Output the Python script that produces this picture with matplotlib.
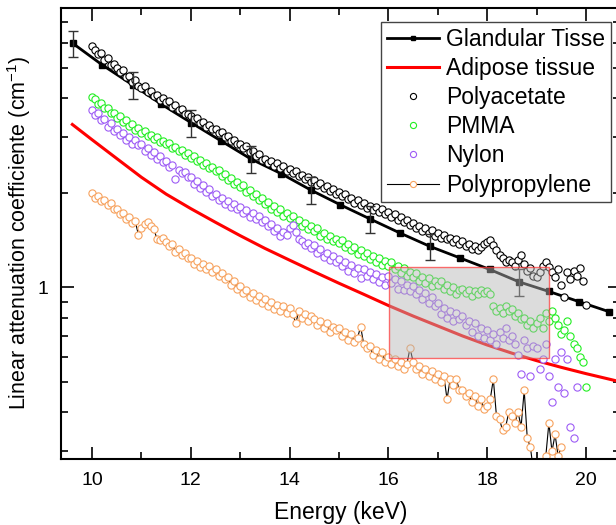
import numpy as np
import matplotlib.pyplot as plt
from matplotlib.patches import Rectangle
from matplotlib.ticker import MultipleLocator, FixedLocator, NullFormatter, FixedFormatter

# Spectra are sampled every 1/16 keV starting at 10 keV
scan_start = 10.0
scan_step = 0.0625

# Glandular tissue reference (line + squares) and its error bars
gland_energy = [9.61, 10.21, 10.82, 11.40, 12.01, 12.62, 13.22, 13.83, 14.43, 15.03,
                15.63, 16.23, 16.84, 17.45, 18.05, 18.65, 19.25, 19.86, 20.47]
gland_mu = [5.98, 5.10, 4.41, 3.83, 3.34, 2.92, 2.56, 2.30, 2.04, 1.83,
            1.65, 1.49, 1.35, 1.24, 1.14, 1.04, 0.97, 0.90, 0.836]
err_energy = [9.61, 10.82, 12.01, 13.22, 14.43, 15.63, 16.84, 18.65]
err_mu = [5.98, 4.41, 3.34, 2.56, 2.04, 1.65, 1.35, 1.04]
err_size = [0.58, 0.43, 0.33, 0.25, 0.20, 0.16, 0.13, 0.105]

# Adipose tissue reference curve
adipose_energy = [9.6, 10.0, 10.5, 11.0, 11.5, 12.0, 12.5, 13.0, 13.5, 14.0, 14.5, 15.0,
                  15.5, 16.0, 16.5, 17.0, 17.5, 18.0, 18.5, 19.0, 19.5, 20.0, 20.7]
adipose_mu = [3.30, 2.95, 2.57, 2.24, 1.98, 1.78, 1.61, 1.46, 1.33, 1.22, 1.12, 1.03,
              0.95, 0.875, 0.81, 0.753, 0.70, 0.655, 0.617, 0.584, 0.556, 0.531, 0.50]

polyacetate = [
    5.87, 5.70, 5.52, 5.58, 5.31, 5.36, 5.12, 5.14,
    4.98, 4.85, 4.91, 4.68, 4.72, 4.52, 4.58, 4.38,
    4.30, 4.36, 4.18, 4.21, 4.06, 4.10, 3.96, 4.02,
    3.88, 3.93, 3.76, 3.80, 3.66, 3.70, 3.56, 3.57,
    3.52, 3.43, 3.45, 3.33, 3.36, 3.24, 3.29, 3.19,
    3.20, 3.10, 3.12, 3.01, 3.04, 2.93, 2.95, 2.86,
    2.86, 2.78, 2.81, 2.70, 2.72, 2.62, 2.66, 2.55,
    2.57, 2.49, 2.52, 2.44, 2.48, 2.40, 2.43, 2.35,
    2.38, 2.31, 2.34, 2.26, 2.28, 2.21, 2.25, 2.17,
    2.19, 2.12, 2.15, 2.07, 2.10, 2.03, 2.06, 1.98,
    2.01, 1.95, 1.98, 1.91, 1.93, 1.86, 1.89, 1.83,
    1.85, 1.79, 1.82, 1.76, 1.80, 1.74, 1.77, 1.71,
    1.74, 1.68, 1.71, 1.64, 1.67, 1.61, 1.64, 1.58,
    1.60, 1.55, 1.57, 1.51, 1.54, 1.49, 1.52, 1.46,
    1.49, 1.44, 1.47, 1.42, 1.44, 1.39, 1.42, 1.37,
    1.40, 1.35, 1.37, 1.32, 1.35, 1.31, 1.34, 1.37,
    1.39, 1.41, 1.36, 1.31, 1.27, 1.24, 1.20, 1.22,
    1.20, 1.17, 1.22, 1.27, 1.19, 1.13, 1.15, 1.09,
    1.08, 1.12, 1.17, 1.20, 1.16, 1.12, 1.08, 1.14,
    1.02, 0.93, 1.12, 1.06, 1.13, 1.09, 1.15, 1.05,
    0.88]

pmma = [
    4.03, 3.98, 3.84, 3.86, 3.71, 3.73, 3.58, 3.60,
    3.47, 3.50, 3.37, 3.40, 3.27, 3.30, 3.18, 3.21,
    3.10, 3.14, 3.03, 3.06, 2.97, 3.00, 2.91, 2.93,
    2.85, 2.88, 2.77, 2.80, 2.71, 2.73, 2.64, 2.68,
    2.59, 2.62, 2.52, 2.54, 2.45, 2.49, 2.39, 2.42,
    2.34, 2.37, 2.26, 2.29, 2.20, 2.23, 2.13, 2.17,
    2.08, 2.11, 2.01, 2.04, 1.95, 1.98, 1.89, 1.92,
    1.84, 1.87, 1.78, 1.81, 1.74, 1.77, 1.69, 1.72,
    1.66, 1.69, 1.61, 1.64, 1.57, 1.60, 1.53, 1.57,
    1.51, 1.54, 1.46, 1.49, 1.43, 1.46, 1.40, 1.43,
    1.38, 1.41, 1.34, 1.37, 1.31, 1.34, 1.28, 1.31,
    1.26, 1.29, 1.23, 1.26, 1.20, 1.24, 1.18, 1.21,
    1.17, 1.20, 1.14, 1.17, 1.11, 1.15, 1.09, 1.12,
    1.08, 1.11, 1.05, 1.08, 1.03, 1.07, 1.01, 1.05,
    1.02, 1.05, 0.99, 1.02, 0.97, 1.00, 0.95, 0.98,
    0.99, 0.96, 0.98, 0.94, 0.97, 0.95, 0.98, 0.96,
    0.97, 0.95, 0.87, 0.84, 0.86, 0.83, 0.87, 0.84,
    0.85, 0.81, 0.83, 0.79, 0.80, 0.76, 0.78, 0.74,
    0.77, 0.80, 0.74, 0.83, 0.78, 0.84, 0.80, 0.76,
    0.71, 0.73, 0.78, 0.70, 0.66, 0.64, 0.60, 0.58,
    0.48]

nylon = [
    3.67, 3.55, 3.58, 3.40, 3.44, 3.25, 3.33, 3.15,
    3.19, 3.05, 3.10, 2.94, 3.02, 2.87, 2.95, 2.83,
    2.85, 2.72, 2.78, 2.63, 2.69, 2.56, 2.61, 2.50,
    2.52, 2.42, 2.45, 2.22, 2.37, 2.31, 2.33, 2.24,
    2.24, 2.14, 2.18, 2.07, 2.11, 2.01, 2.05, 1.96,
    1.98, 1.90, 1.93, 1.84, 1.88, 1.80, 1.84, 1.77,
    1.80, 1.73, 1.76, 1.68, 1.72, 1.65, 1.69, 1.61,
    1.64, 1.57, 1.59, 1.51, 1.54, 1.46, 1.50, 1.47,
    1.55, 1.58, 1.50, 1.42, 1.40, 1.36, 1.38, 1.33,
    1.36, 1.29, 1.32, 1.25, 1.29, 1.22, 1.26, 1.20,
    1.23, 1.17, 1.20, 1.13, 1.18, 1.11, 1.15, 1.07,
    1.14, 1.09, 1.12, 1.06, 1.10, 1.04, 1.08, 1.02,
    1.09, 1.03, 1.06, 0.99, 1.05, 0.98, 1.02, 0.97,
    1.01, 0.95, 0.98, 0.92, 0.96, 0.89, 0.93, 0.87,
    0.89, 0.82, 0.86, 0.80, 0.84, 0.78, 0.83, 0.79,
    0.81, 0.76, 0.78, 0.72, 0.77, 0.70, 0.74, 0.69,
    0.73, 0.68, 0.71, 0.66, 0.72, 0.69, 0.74, 0.68,
    0.70, 0.66, 0.61, 0.53, 0.68, 0.64, 0.52, 0.65,
    0.64, 0.55, 0.59, 0.66, 0.52, 0.43, 0.59, 0.48,
    0.62, 0.46, 0.59, 0.36, 0.33, 0.48]

polypropylene = [
    1.99, 1.93, 1.95, 1.88, 1.90, 1.83, 1.85, 1.77,
    1.78, 1.71, 1.73, 1.65, 1.68, 1.60, 1.62, 1.47,
    1.55, 1.59, 1.61, 1.57, 1.53, 1.43, 1.41, 1.44,
    1.39, 1.35, 1.37, 1.30, 1.32, 1.27, 1.29, 1.24,
    1.24, 1.19, 1.21, 1.16, 1.19, 1.14, 1.17, 1.12,
    1.14, 1.09, 1.11, 1.06, 1.08, 1.02, 1.05, 0.99,
    1.01, 0.96, 0.98, 0.93, 0.96, 0.91, 0.94, 0.89,
    0.92, 0.87, 0.90, 0.85, 0.88, 0.84, 0.87, 0.83,
    0.86, 0.82, 0.77, 0.84, 0.80, 0.82, 0.78, 0.81,
    0.79, 0.76, 0.78, 0.74, 0.77, 0.72, 0.75, 0.73,
    0.74, 0.70, 0.72, 0.68, 0.71, 0.67, 0.69, 0.75,
    0.66, 0.64, 0.65, 0.61, 0.63, 0.59, 0.62, 0.58,
    0.60, 0.57, 0.59, 0.56, 0.58, 0.55, 0.57, 0.64,
    0.58, 0.55, 0.56, 0.53, 0.55, 0.52, 0.54, 0.51,
    0.53, 0.50, 0.52, 0.44, 0.51, 0.49, 0.51, 0.47,
    0.47, 0.45, 0.46, 0.43, 0.45, 0.42, 0.44, 0.41,
    0.42, 0.44, 0.51, 0.39, 0.38, 0.35, 0.36, 0.40,
    0.39, 0.37, 0.40, 0.36, 0.47, 0.33, 0.31, 0.26,
    0.22, 0.25, 0.21, 0.29, 0.37, 0.30, 0.34, 0.29,
    0.31]

# Highlighted region (energy range, mu range)
box_energy = (16.02, 19.26)
box_mu = (0.597, 1.163)


def scan(values):
    return scan_start + scan_step * np.arange(len(values))


plt.rcParams['font.family'] = ['Liberation Sans', 'DejaVu Sans']
plt.rcParams['mathtext.fontset'] = 'custom'
plt.rcParams['mathtext.rm'] = 'Liberation Sans'
plt.rcParams['mathtext.it'] = 'Liberation Sans:italic'

fig = plt.figure(figsize=(6.16, 5.25), dpi=100)
ax = fig.add_axes([0.099, 0.1257, 0.9075, 0.86])

green = '#22ee22'
purple = '#9d5cf5'
orange = '#f7a25e'
msize = 5.2
mew = 0.8

adip, = ax.plot(adipose_energy, adipose_mu, color='red', lw=2.2, zorder=2,
                label='Adipose tissue')
pp, = ax.plot(scan(polypropylene), polypropylene, '-o', color='black', lw=0.8,
              ms=msize, mfc='white', mec=orange, mew=mew, zorder=2,
              label='Polypropylene')
pmma_h, = ax.plot(scan(pmma), pmma, 'o', ms=msize, mfc='white', mec=green, mew=mew,
                  zorder=3, label='PMMA')
nyl, = ax.plot(scan(nylon), nylon, 'o', ms=msize, mfc='white', mec=purple, mew=mew,
               zorder=3, label='Nylon')
gl, = ax.plot(gland_energy, gland_mu, '-s', color='black', lw=2, ms=4, zorder=3,
              label='Glandular Tisse')
pa, = ax.plot(scan(polyacetate), polyacetate, 'o', ms=msize, mfc='white', mec='black',
              mew=mew, zorder=3.5, label='Polyacetate')
ax.errorbar(err_energy, err_mu, yerr=err_size, fmt='none', ecolor='#333333',
            elinewidth=1, capsize=3.5, capthick=1, zorder=4)

ax.add_patch(Rectangle((box_energy[0], box_mu[0]), box_energy[1] - box_energy[0],
                       box_mu[1] - box_mu[0], facecolor=(0.71, 0.71, 0.71, 0.47),
                       edgecolor=(1, 0.2, 0.2, 0.7), lw=1, zorder=5))

ax.set_yscale('log')
ax.set_xlim(9.37, 20.69)
ax.set_ylim(0.2839, 7.78)

ax.xaxis.set_major_locator(MultipleLocator(2))
ax.xaxis.set_minor_locator(MultipleLocator(1))
ax.yaxis.set_major_locator(FixedLocator([1]))
ax.yaxis.set_major_formatter(FixedFormatter(['1']))
ax.yaxis.set_minor_locator(FixedLocator([0.3, 0.4, 0.5, 0.6, 0.7, 0.8, 0.9,
                                         2, 3, 4, 5, 6, 7]))
ax.yaxis.set_minor_formatter(NullFormatter())

ax.tick_params(which='both', direction='in', top=True, right=True, width=1.2,
               labelsize=14, pad=9)
ax.tick_params(which='major', length=9)
ax.tick_params(which='minor', length=5)
for s in ax.spines.values():
    s.set_linewidth(1.5)

ax.set_xlabel('Energy (keV)', fontsize=16.5, labelpad=9)
ax.set_ylabel('Linear attenuation coefficiente (cm$^{-1}$)', fontsize=15.5, labelpad=3)

leg = ax.legend(handles=[gl, adip, pa, pmma_h, nyl, pp], loc='upper right',
                bbox_to_anchor=(0.984, 0.968), borderaxespad=0, fontsize=16.5,
                fancybox=False, framealpha=1, edgecolor='#444444',
                handlelength=2.3, handletextpad=0.3, borderpad=0.25,
                labelspacing=0.27, markerscale=0.85)
leg.get_frame().set_linewidth(1)

fig.savefig('out.png', dpi=100)
